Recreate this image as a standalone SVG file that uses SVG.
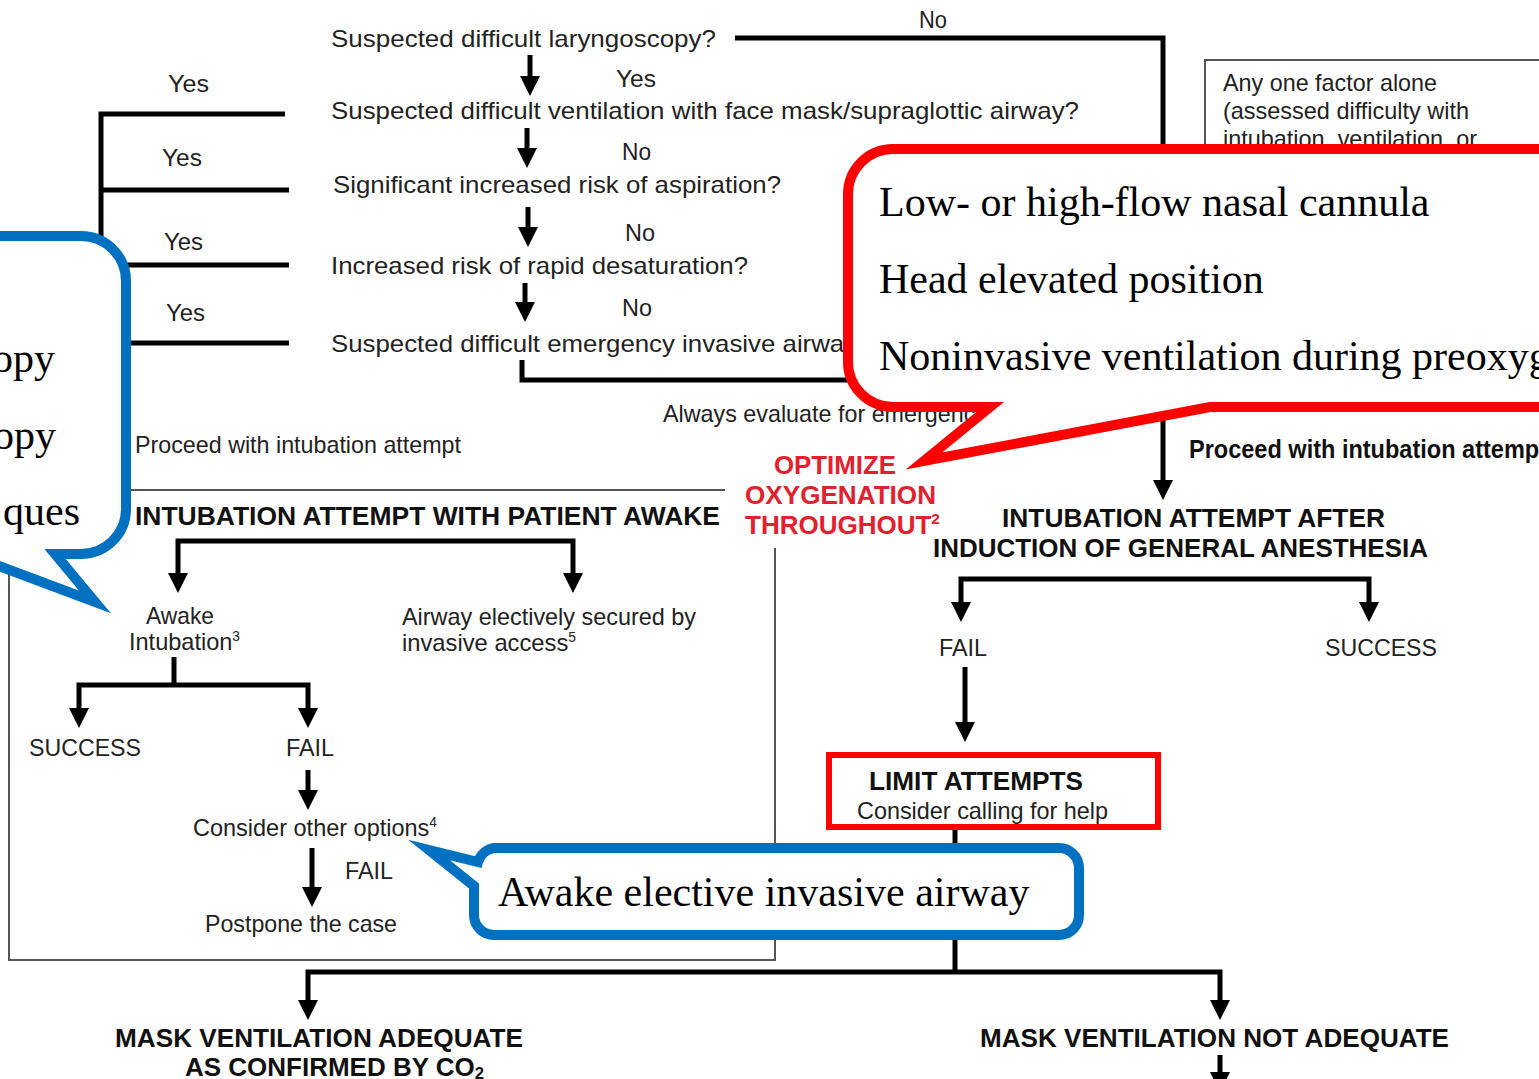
<svg xmlns="http://www.w3.org/2000/svg" width="1539" height="1079" viewBox="0 0 1539 1079">
  <style>
    .t { font-family: "Liberation Sans", Arial, sans-serif; font-size: 24px; fill: #222; }
    .b { font-family: "Liberation Sans", Arial, sans-serif; font-size: 25px; font-weight: bold; fill: #111; }
    .r { font-family: "Liberation Sans", Arial, sans-serif; font-size: 25px; font-weight: bold; fill: #e3202e; }
    .s { font-family: "Liberation Serif", "Times New Roman", serif; font-size: 42px; fill: #000; }
    .ln { fill: none; stroke: #000; stroke-width: 5; }
    .ar { fill: none; stroke: #000; stroke-width: 5; marker-end: url(#ah); }
    .ar2 { fill: none; stroke: #000; stroke-width: 5; marker-start: url(#ah); marker-end: url(#ah); }
    .frame { fill: none; stroke: #555; stroke-width: 2; }
    .callR { fill: #fff; stroke: #ff0000; stroke-width: 10; stroke-miterlimit: 10; stroke-linejoin: miter; }
    .callB { fill: #fff; stroke: #0070c0; stroke-width: 10; stroke-miterlimit: 10; stroke-linejoin: miter; }
  </style>
  <defs>
    <marker id="ah" viewBox="0 0 20 20" markerWidth="20" markerHeight="20" markerUnits="userSpaceOnUse" refX="4" refY="10" orient="auto-start-reverse">
      <path d="M0,0 L20,10 L0,20 Z" fill="#000"/>
    </marker>
  </defs>

  <rect width="1539" height="1079" fill="#fff"/>

  <!-- frames -->
  <g id="frames">
    <polyline class="frame" points="725,490 9,490 9,960 775,960 775,548"/>
    <rect class="frame" x="1205" y="60" width="400" height="200"/>
  </g>

  <!-- connectors -->
  <g id="connectors">
    <path class="ar" d="M735,38 H1163 V484"/>
    <path class="ar" d="M530,55 V80"/>
    <path class="ar" d="M527,128 V152"/>
    <path class="ar" d="M528,207 V231"/>
    <path class="ar" d="M525,283 V306"/>
    <path class="ln" d="M285,114 H101 V343 H289 M101,190 H289 M101,265 H289"/>
    <path class="ln" d="M522,360 V380 H1163"/>
    <path class="ar2" d="M178,577 V541 H573 V577"/>
    <path class="ln" d="M174,657 V685"/>
    <path class="ar2" d="M79,712 V685 H308 V712"/>
    <path class="ar" d="M308,770 V794"/>
    <path class="ar" d="M312,848 V891"/>
    <path class="ar2" d="M961,606 V579 H1369 V606"/>
    <path class="ar" d="M965,667 V726"/>
    <path class="ln" d="M955,830 V972"/>
    <path class="ar2" d="M308,1004 V972 H1220 V1004"/>
    <path class="ar" d="M1220,1055 V1076"/>
  </g>

  <!-- screening questions -->
  <g id="q1"><text class="t" x="331" y="47" textLength="385" lengthAdjust="spacingAndGlyphs">Suspected difficult laryngoscopy?</text></g>
  <g id="q2"><text class="t" x="331" y="119" textLength="748" lengthAdjust="spacingAndGlyphs">Suspected difficult ventilation with face mask/supraglottic airway?</text></g>
  <g id="q3"><text class="t" x="333" y="193" textLength="448" lengthAdjust="spacingAndGlyphs">Significant increased risk of aspiration?</text></g>
  <g id="q4"><text class="t" x="331" y="274" textLength="417" lengthAdjust="spacingAndGlyphs">Increased risk of rapid desaturation?</text></g>
  <g id="q5"><text class="t" x="331" y="352" textLength="628" lengthAdjust="spacingAndGlyphs">Suspected difficult emergency invasive airway access?</text></g>

  <g id="answers">
    <text class="t" x="919" y="28" textLength="28" lengthAdjust="spacingAndGlyphs">No</text>
    <text class="t" x="168" y="92" textLength="41" lengthAdjust="spacingAndGlyphs">Yes</text>
    <text class="t" x="616" y="87" textLength="40" lengthAdjust="spacingAndGlyphs">Yes</text>
    <text class="t" x="162" y="166" textLength="40" lengthAdjust="spacingAndGlyphs">Yes</text>
    <text class="t" x="622" y="160" textLength="29" lengthAdjust="spacingAndGlyphs">No</text>
    <text class="t" x="164" y="250" textLength="39" lengthAdjust="spacingAndGlyphs">Yes</text>
    <text class="t" x="625" y="241" textLength="30" lengthAdjust="spacingAndGlyphs">No</text>
    <text class="t" x="166" y="321" textLength="39" lengthAdjust="spacingAndGlyphs">Yes</text>
    <text class="t" x="622" y="316" textLength="30" lengthAdjust="spacingAndGlyphs">No</text>
  </g>

  <g id="factor-note">
    <text class="t" x="1223" y="91" font-size="22" textLength="214" lengthAdjust="spacingAndGlyphs">Any one factor alone</text>
    <text class="t" x="1223" y="119" font-size="22" textLength="246" lengthAdjust="spacingAndGlyphs">(assessed difficulty with</text>
    <text class="t" x="1223" y="147" font-size="22" textLength="254" lengthAdjust="spacingAndGlyphs">intubation, ventilation, or</text>
  </g>

  <g id="evaluate"><text class="t" x="663" y="422" font-size="22" textLength="324" lengthAdjust="spacingAndGlyphs">Always evaluate for emergency</text></g>
  <g id="proceed-left"><text class="t" x="135" y="453" font-size="22" textLength="326" lengthAdjust="spacingAndGlyphs">Proceed with intubation attempt</text></g>
  <g id="proceed-right"><text class="b" x="1189" y="458" font-size="22" textLength="358" lengthAdjust="spacingAndGlyphs">Proceed with intubation attempt</text></g>

  <!-- awake branch -->
  <g id="awake-head"><text class="b" x="135" y="525" textLength="585" lengthAdjust="spacingAndGlyphs">INTUBATION ATTEMPT WITH PATIENT AWAKE</text></g>
  <g id="awake-intubation">
    <text class="t" x="146" y="624" font-size="23" textLength="68" lengthAdjust="spacingAndGlyphs">Awake</text>
    <text class="t" x="129" y="650" font-size="23" textLength="111" lengthAdjust="spacingAndGlyphs">Intubation<tspan font-size="14" dy="-9">3</tspan></text>
  </g>
  <g id="invasive-access">
    <text class="t" x="402" y="625" font-size="23" textLength="294" lengthAdjust="spacingAndGlyphs">Airway electively secured by</text>
    <text class="t" x="402" y="651" font-size="23" textLength="174" lengthAdjust="spacingAndGlyphs">invasive access<tspan font-size="14" dy="-9">5</tspan></text>
  </g>
  <g id="awake-success"><text class="t" x="29" y="756" font-size="23" textLength="112" lengthAdjust="spacingAndGlyphs">SUCCESS</text></g>
  <g id="awake-fail"><text class="t" x="286" y="756" font-size="23" textLength="48" lengthAdjust="spacingAndGlyphs">FAIL</text></g>
  <g id="other-options"><text class="t" x="193" y="836" font-size="23" textLength="244" lengthAdjust="spacingAndGlyphs">Consider other options<tspan font-size="14" dy="-9">4</tspan></text></g>
  <g id="fail-label"><text class="t" x="345" y="879" font-size="23" textLength="48" lengthAdjust="spacingAndGlyphs">FAIL</text></g>
  <g id="postpone"><text class="t" x="205" y="932" font-size="23" textLength="192" lengthAdjust="spacingAndGlyphs">Postpone the case</text></g>

  <g id="optimize">
    <text class="r" x="774" y="474" textLength="122" lengthAdjust="spacingAndGlyphs">OPTIMIZE</text>
    <text class="r" x="745" y="504" textLength="191" lengthAdjust="spacingAndGlyphs">OXYGENATION</text>
    <text class="r" x="745" y="534" textLength="195" lengthAdjust="spacingAndGlyphs">THROUGHOUT<tspan font-size="15" dy="-10">2</tspan></text>
  </g>

  <!-- anesthesia branch -->
  <g id="ga-head">
    <text class="b" x="1002" y="527" textLength="383" lengthAdjust="spacingAndGlyphs">INTUBATION ATTEMPT AFTER</text>
    <text class="b" x="933" y="557" textLength="495" lengthAdjust="spacingAndGlyphs">INDUCTION OF GENERAL ANESTHESIA</text>
  </g>
  <g id="ga-fail"><text class="t" x="939" y="656" font-size="23" textLength="48" lengthAdjust="spacingAndGlyphs">FAIL</text></g>
  <g id="ga-success"><text class="t" x="1325" y="656" font-size="23" textLength="112" lengthAdjust="spacingAndGlyphs">SUCCESS</text></g>
  <g id="limit-attempts">
    <rect x="829" y="755" width="329" height="72" fill="#fff" stroke="#ff0000" stroke-width="6"/>
    <text class="b" x="869" y="790" textLength="214" lengthAdjust="spacingAndGlyphs">LIMIT ATTEMPTS</text>
    <text class="t" x="857" y="819" font-size="23" textLength="251" lengthAdjust="spacingAndGlyphs">Consider calling for help</text>
  </g>

  <g id="mask-adequate">
    <text class="b" x="115" y="1047" textLength="408" lengthAdjust="spacingAndGlyphs">MASK VENTILATION ADEQUATE</text>
    <text class="b" x="185" y="1076" textLength="299" lengthAdjust="spacingAndGlyphs">AS CONFIRMED BY CO<tspan font-size="16" dy="3">2</tspan></text>
  </g>
  <g id="mask-not-adequate"><text class="b" x="980" y="1047" textLength="469" lengthAdjust="spacingAndGlyphs">MASK VENTILATION NOT ADEQUATE</text></g>

  <!-- callouts -->
  <g id="callout-oxygenation">
    <path class="callR" d="M893,149 H1570 V407 H1210 L924,461 L990,407 H893 A45,45 0 0 1 848,362 V194 A45,45 0 0 1 893,149 Z"/>
    <text class="s" x="879" y="216">Low- or high-flow nasal cannula</text>
    <text class="s" x="879" y="293">Head elevated position</text>
    <text class="s" x="879" y="370">Noninvasive ventilation during preoxygenation</text>
  </g>
  <g id="callout-awake">
    <path class="callB" d="M-60,236 H81 A45,45 0 0 1 126,281 V509 A45,45 0 0 1 81,554 H55 L95,602 L-33,554 H-60 Z"/>
    <text class="s" x="55" y="372" text-anchor="end">opy</text>
    <text class="s" x="56" y="449" text-anchor="end">opy</text>
    <text class="s" x="80" y="525" text-anchor="end">ques</text>
  </g>
  <g id="callout-invasive">
    <path class="callB" d="M494,848 H1059 A20,20 0 0 1 1079,868 V915 A20,20 0 0 1 1059,935 H494 A20,20 0 0 1 474,915 V886 L429,850 L478,862 A20,20 0 0 1 494,848 Z"/>
    <text class="s" x="498" y="906">Awake elective invasive airway</text>
  </g>
</svg>
